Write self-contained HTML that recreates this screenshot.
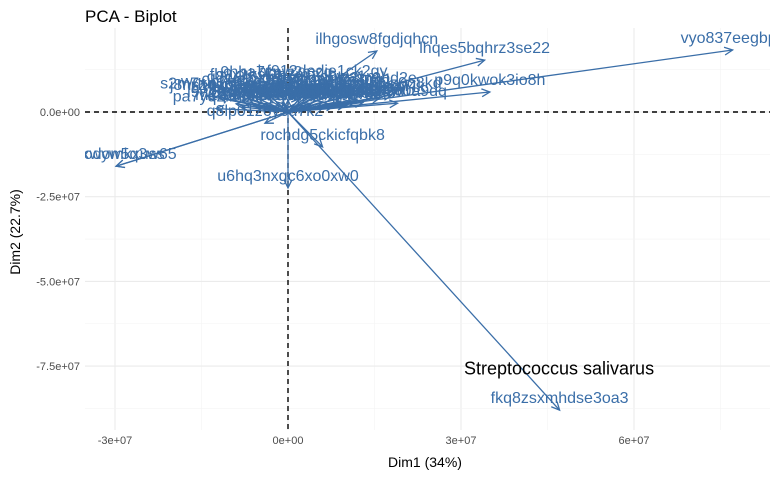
<!DOCTYPE html>
<html><head><meta charset="utf-8"><style>
body{margin:0;background:#fff;width:770px;height:475px;overflow:hidden}
text{font-family:"Liberation Sans",sans-serif}
</style></head><body>
<svg id="chart" width="770" height="475" xmlns="http://www.w3.org/2000/svg">
<defs><clipPath id="clip"><rect x="85" y="28" width="685" height="402"/></clipPath></defs>
<text x="85" y="22" font-size="17" fill="#000">PCA - Biplot</text>
<g id="grid"></g>
<g id="marks" clip-path="url(#clip)"></g>
<g id="axes"></g>
<text x="425" y="467" font-size="14" text-anchor="middle">Dim1 (34%)</text>
<text transform="translate(20,232) rotate(-90)" font-size="14" text-anchor="middle">Dim2 (22.7%)</text>
</svg>
<script>
const xTicks=[-3e7,0,3e7,6e7];
const xTickLabels=["-3e+07","0e+00","3e+07","6e+07"];
const yTicks=[0,-2.5e7,-5e7,-7.5e7];
const yTickLabels=["0.0e+00","-2.5e+07","-5.0e+07","-7.5e+07"];
const varNames=["vyo837eegbpv","ilhgosw8fgdjqhcn","lhqes5bqhrz3se22","p9q0kwok3io8h","fkq8zsxmhdse3oa3","rochdg5ckicfqbk8","u6hq3nxgc6xo0xw0","esnxwyw5q3w65","Prodomkxuss","q8lp01z6y3u7k2","pa7yq2lm0x",
"fb9x1ksl0q2m","bf912dedie1ck2gy","9hba7cnw2mzq","a8hd2k1lw0pz","k2j4mn7c8qq1","x0lq3m9bd2e","t7rwq2z0o8kd","mz8c5qd1ws3","h3ka9p0xq2lw","j8ns1qzb0vce","c9dq4w7m1ax","wq0p7s3kd9b","zs2n8e1ql4k","b7xk3c0wa1m","n4v9q2ld7sx","r1p8w3ma0z","e5kd0q9w2nb","s2m7xq1c8lp","y6gk3w0a9dq","o3n1qz8mw5c","g8w2l0xk7qa","d4qs9m1z3wb","l7ck2w0x9ne","v2x8q1m6kd0","i9w3k0mq2za",
"m1q8w0zk3x","c4n7q2lwa9","w8z1m3kq0d","k7x2n9qa1c","p3q9w0lm2z","f2k8x1wq7m","u9m3q0zw2k","q2w7k1xm9a","z8m1q3kw0c","n6k2x9wq1d","b1q7m3zk8w","t4w9k0qx2m","h2m8q1wz7k","r9k3x0qm1w","a5q1w8mk2z","g3x7k2qw9m","e1m9q3wk0z","y7k2w1qm8x","o2q8m0kx3w","j6w1k9qm2z"];
const dim1=[77.1,15.4,34.1,35.0,47.1,6.0,0.0,-29.8,-29.8,-4.0,-12.5,
-5,6,-2,2,9,14,18,11,-8,-12,4,-10,16,7,12,-4,1,-14,19,8,-6,13,3,10,-9,
-8,-6,-4,-2,0,2,4,6,8,10,12,-7,-3,1,5,9,-5,-1,3,7];
const dim2=[18.3,18.0,15.3,5.9,-88.0,-10.3,-22.4,-16.0,-16.0,-3.3,1.0,
7.5,8.5,8.2,4.0,6.0,6.5,5.0,3.0,3.5,4.5,2.5,5.5,4.2,7.0,3.8,6.0,2.2,4.8,2.6,5.2,6.8,2.8,5.8,2.0,2.4,
1.5,2.0,2.5,3.0,3.5,4.0,2.0,3.0,1.8,2.6,3.4,4.2,1.6,2.2,4.6,3.2,3.8,2.8,1.4,2.4];
const annotText="Streptococcus salivarus";const annotX=47e6;const annotY=-77.5e6;

const NS="http://www.w3.org/2000/svg";
const L=85,R=770,T=28,B=430;
function sx(v){return 288+v/3e7*173;}
function sy(v){return 112-v/2.5e7*84.7;}
function mk(tag,attrs,parent){const e=document.createElementNS(NS,tag);for(const k in attrs)e.setAttribute(k,attrs[k]);parent.appendChild(e);return e;}
const grid=document.getElementById('grid'),marks=document.getElementById('marks'),axes=document.getElementById('axes');
mk('rect',{x:L,y:T,width:R-L,height:B-T,fill:'#fff'},grid);
for(let v=-4.5e7;v<=9e7;v+=1.5e7){const x=sx(v);if(x<L||x>R)continue;const major=xTicks.includes(v);
const l=mk('line',{x1:x,x2:x,y1:T,y2:B,stroke:major?'#ebebeb':'#f3f3f3','stroke-width':major?1.1:0.6},grid);

}
for(let v=2.5e7;v>=-1e8;v-=1.25e7){const y=sy(v);if(y<T||y>B)continue;const major=yTicks.includes(v);
const l=mk('line',{x1:L,x2:R,y1:y,y2:y,stroke:major?'#ebebeb':'#f3f3f3','stroke-width':major?1.1:0.6},grid);

}
xTicks.forEach((v,i)=>{const t=mk('text',{x:sx(v),y:B+14,'font-size':11,fill:'#4d4d4d','text-anchor':'middle'},axes);t.textContent=xTickLabels[i];

});
yTicks.forEach((v,i)=>{const t=mk('text',{x:L-5,y:sy(v)+4,'font-size':11,fill:'#4d4d4d','text-anchor':'end'},axes);t.textContent=yTickLabels[i];

});
const zx=mk('line',{x1:sx(0),x2:sx(0),y1:T,y2:B,stroke:'#000','stroke-width':1.4,'stroke-dasharray':'5,4'},marks);


const zy=mk('line',{x1:L,x2:R,y1:sy(0),y2:sy(0),stroke:'#000','stroke-width':1.4,'stroke-dasharray':'5,4'},marks);


const col='#3a6ea8';
varNames.forEach((n,i)=>{const x0=sx(0),y0=sy(0),x1=sx(dim1[i]*1e6),y1=sy(dim2[i]*1e6);
const g=mk('g',{},marks);


mk('line',{x1:x0,y1:y0,x2:x1,y2:y1,stroke:col,'stroke-width':1.3},g);
const a=Math.atan2(y1-y0,x1-x0),h=9,s=0.45;
mk('polyline',{points:`${x1-h*Math.cos(a-s)},${y1-h*Math.sin(a-s)} ${x1},${y1} ${x1-h*Math.cos(a+s)},${y1-h*Math.sin(a+s)}`,fill:'none',stroke:col,'stroke-width':1.3},g);
const t=mk('text',{x:x1,y:y1-7,'font-size':16,fill:col,'text-anchor':'middle'},g);t.textContent=n;

});
const an=mk('text',{x:sx(annotX),y:sy(annotY),'font-size':18,fill:'#000','text-anchor':'middle'},marks);an.textContent=annotText;


</script>
</body></html>
